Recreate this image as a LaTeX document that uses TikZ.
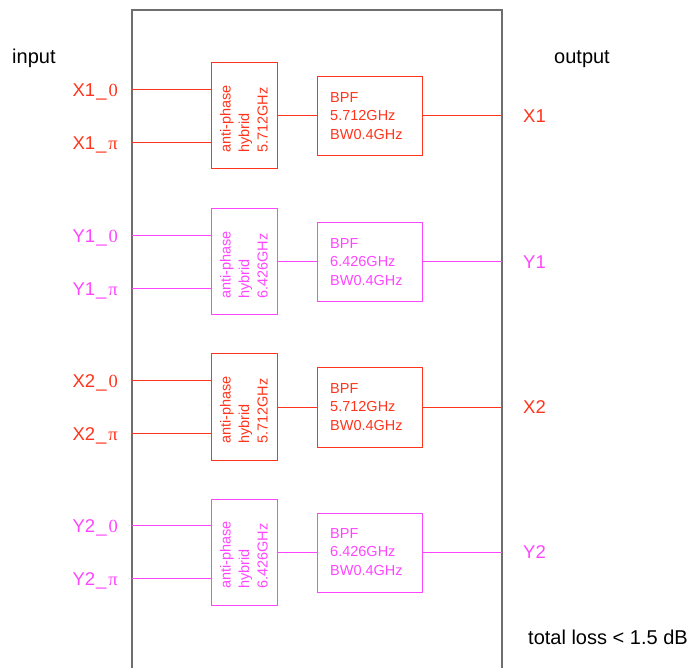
\documentclass[tikz,border=0pt]{standalone}
\usepackage{fontspec}
\setmainfont{Liberation Sans}
\newfontfamily\sernum{Liberation Serif}
\definecolor{cred}{RGB}{255,52,28}
\definecolor{cmag}{RGB}{255,70,255}
\definecolor{framegray}{RGB}{110,110,110}
\begin{document}
\begin{tikzpicture}[x=1pt,y=-1pt,
  hyb/.style={draw, minimum width=66pt, minimum height=106pt, inner sep=0pt, line width=1pt},
  bpfbox/.style={draw, minimum width=105pt, minimum height=79pt, inner sep=0pt, line width=1pt},
  intxt/.style={font=\fontsize{14.5}{18.5}\selectfont, align=left, inner sep=0pt},
  lab/.style={font=\fontsize{18.5}{20}\selectfont, inner sep=0pt},
  blab/.style={font=\fontsize{20}{22}\selectfont, inner sep=0pt, text=black},
  wire/.style={line width=1pt}]
\useasboundingbox (0,0) rectangle (691,668);
% frame
\coordinate (fbl) at (132,668);
\coordinate (ftl) at (132,10);
\coordinate (ftr) at (502,10);
\coordinate (fbr) at (502,668);
\draw[framegray, line width=1.2pt] (fbl) -- (ftl) -- (ftr) -- (fbr);
% titles
\node[blab, anchor=base west] (tin) at (12,64) {input};
\node[blab, anchor=base west] (tout) at (554,64) {output};
\node[blab, anchor=base west] (tloss) at (528,644) {total loss < 1.5 dB};
% rows
\foreach \i/\yc/\col/\nm/\fr in {1/116/cred/X1/5.712, 2/262/cmag/Y1/6.426, 3/407/cred/X2/5.712, 4/552/cmag/Y2/6.426}{
  \node[hyb, draw=\col] (h\i) at (244,\yc) {};
  \node[intxt, text=\col, rotate=90] (ht\i) at (244,\yc+3) {anti-phase\\hybrid\\\fr GHz};
  \node[bpfbox, draw=\col] (b\i) at (369.5,\yc+0.5) {};
  \node[intxt, text=\col, anchor=west] (bt\i) at (330,\yc) {BPF\\\fr GHz\\BW0.4GHz};
  \coordinate (ia\i) at (132,\yc-26.5);
  \coordinate (ib\i) at (132,\yc+26.5);
  \coordinate (o\i) at (502,\yc);
  \draw[wire, \col] (ia\i) -- (ia\i -| h\i.west);
  \draw[wire, \col] (ib\i) -- (ib\i -| h\i.west);
  \draw[wire, \col] (h\i.east |- o\i) -- (b\i.west |- o\i);
  \draw[wire, \col] (b\i.east |- o\i) -- (o\i);
  \node[lab, text=\col, anchor=base east] (la\i) at (118,\yc-19.8) {\nm\kern1pt\_\kern2pt{\sernum 0}};
  \node[lab, text=\col, anchor=base east] (lb\i) at (118,\yc+33.2) {\nm\kern1pt\_\kern2pt{\sernum π}};
  \node[lab, text=\col, anchor=base west] (lo\i) at (523,\yc+6.5) {\nm};
}
\end{tikzpicture}
\end{document}
